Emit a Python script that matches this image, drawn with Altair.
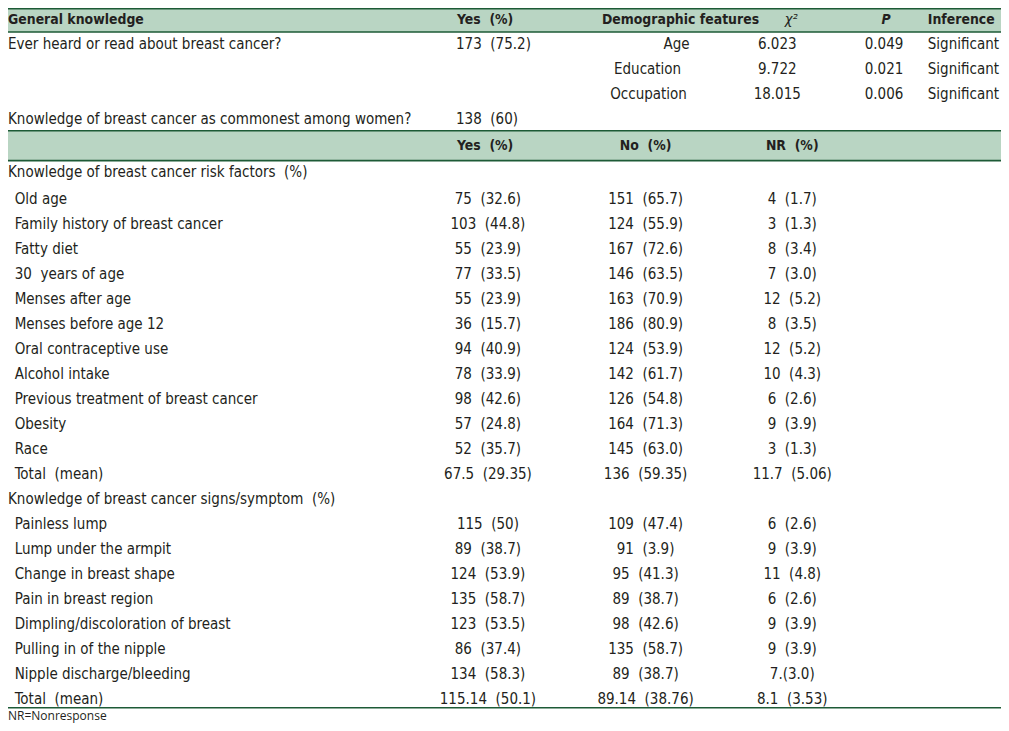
import altair as alt
import pandas as pd

# ---------------- data ----------------
gk_header = ["General knowledge", "Yes\u00a0 (%)", "Demographic features", "\u03c7\u00b2", "P", "Inference"]
gk_questions = ["Ever heard or read about breast cancer?",
                "Knowledge of breast cancer as commonest among women?"]
gk_yes = ["173\u00a0 (75.2)", "138\u00a0 (60)"]
demo_features = ["Age", "Education", "Occupation"]
chi2_values = ["6.023", "9.722", "18.015"]
p_values = ["0.049", "0.021", "0.006"]
inference = ["Significant", "Significant", "Significant"]

kn_header = ["Yes\u00a0 (%)", "No\u00a0 (%)", "NR\u00a0 (%)"]
risk_title = "Knowledge of breast cancer risk factors\u00a0 (%)"
risk_factors = ["Old age", "Family history of breast cancer", "Fatty diet",
                "30\u00a0 years of age", "Menses after age", "Menses before age 12",
                "Oral contraceptive use", "Alcohol intake",
                "Previous treatment of breast cancer", "Obesity", "Race",
                "Total\u00a0 (mean)"]
risk_yes = ["75\u00a0 (32.6)", "103\u00a0 (44.8)", "55\u00a0 (23.9)", "77\u00a0 (33.5)",
            "55\u00a0 (23.9)", "36\u00a0 (15.7)", "94\u00a0 (40.9)", "78\u00a0 (33.9)",
            "98\u00a0 (42.6)", "57\u00a0 (24.8)", "52\u00a0 (35.7)", "67.5\u00a0 (29.35)"]
risk_no = ["151\u00a0 (65.7)", "124\u00a0 (55.9)", "167\u00a0 (72.6)", "146\u00a0 (63.5)",
           "163\u00a0 (70.9)", "186\u00a0 (80.9)", "124\u00a0 (53.9)", "142\u00a0 (61.7)",
           "126\u00a0 (54.8)", "164\u00a0 (71.3)", "145\u00a0 (63.0)", "136\u00a0 (59.35)"]
risk_nr = ["4\u00a0 (1.7)", "3\u00a0 (1.3)", "8\u00a0 (3.4)", "7\u00a0 (3.0)",
           "12\u00a0 (5.2)", "8\u00a0 (3.5)", "12\u00a0 (5.2)", "10\u00a0 (4.3)",
           "6\u00a0 (2.6)", "9\u00a0 (3.9)", "3\u00a0 (1.3)", "11.7\u00a0 (5.06)"]

sym_title = "Knowledge of breast cancer signs/symptom\u00a0 (%)"
symptoms = ["Painless lump", "Lump under the armpit", "Change in breast shape",
            "Pain in breast region", "Dimpling/discoloration of breast",
            "Pulling in of the nipple", "Nipple discharge/bleeding", "Total\u00a0 (mean)"]
sym_yes = ["115\u00a0 (50)", "89\u00a0 (38.7)", "124\u00a0 (53.9)", "135\u00a0 (58.7)",
           "123\u00a0 (53.5)", "86\u00a0 (37.4)", "134\u00a0 (58.3)", "115.14\u00a0 (50.1)"]
sym_no = ["109\u00a0 (47.4)", "91\u00a0 (3.9)", "95\u00a0 (41.3)", "89\u00a0 (38.7)",
          "98\u00a0 (42.6)", "135\u00a0 (58.7)", "89\u00a0 (38.7)", "89.14\u00a0 (38.76)"]
sym_nr = ["6\u00a0 (2.6)", "9\u00a0 (3.9)", "11\u00a0 (4.8)", "6\u00a0 (2.6)",
          "9\u00a0 (3.9)", "9\u00a0 (3.9)", "7.(3.0)", "8.1\u00a0 (3.53)"]
footnote = "NR=Nonresponse"

# ---------------- layout (positions in the reference's pixel frame) ----------------
REF_W, REF_H = 1009, 731
M = 8                        # page margin
CW, CH = REF_W - 2 * M, REF_H - 2 * M   # chart size that fits the page
FONT = "DejaVu Sans Condensed, Liberation Sans Narrow, sans-serif"
FOOT_FONT = "Open Sans, Noto Sans, sans-serif"
TXT = "#231f20"
BAND = "#b9d5c3"
LINE = "#1d5a36"

X_LABEL, X_INDENT = 2, 12
X_GK_YES = 455
X_DEMO_HEAD = 680
X_DEMO = [676, 647, 648]
X_CHI_HEAD, X_CHI = 791, 777
X_P_HEAD, X_P = 886, 884
X_INF = 930
X_YES_HEAD = 456
X_YES, X_NO, X_NR = 487, 645, 792

Y_H1 = 17
GK_ROW0, GK_PITCH = 44, 25
Y_H2 = 146
Y_RISK_TITLE = 172
ROW0, PITCH = 199, 25.1
Y_FOOT = 722

rows = []

def add(text, x, y, align, style):
    rows.append(dict(text=text, x=x, y=y, align=align, style=style))

# header 1
add(gk_header[0], X_LABEL, Y_H1, "left", "head")
add(gk_header[1], X_YES_HEAD, Y_H1, "left", "head")
add(gk_header[2], X_DEMO_HEAD, Y_H1, "center", "head")
add(gk_header[3], X_CHI_HEAD, Y_H1, "center", "ital")
add(gk_header[4], X_P_HEAD, Y_H1, "center", "headital")
add(gk_header[5], X_INF, Y_H1, "left", "head")

for i, q in enumerate(gk_questions):
    yq = GK_ROW0 + (0 if i == 0 else 3 * GK_PITCH)
    add(q, X_LABEL, yq, "left", "body")
    add(gk_yes[i], X_GK_YES, yq, "left", "body")
for i in range(len(demo_features)):
    yd = GK_ROW0 + i * GK_PITCH
    add(demo_features[i], X_DEMO[i], yd, "center", "body")
    add(chi2_values[i], X_CHI, yd, "center", "body")
    add(p_values[i], X_P, yd, "center", "body")
    add(inference[i], X_INF, yd, "left", "body")

# header 2
add(kn_header[0], X_YES_HEAD, Y_H2, "left", "head")
add(kn_header[1], X_NO, Y_H2, "center", "head")
add(kn_header[2], X_NR, Y_H2, "center", "head")

add(risk_title, X_LABEL, Y_RISK_TITLE, "left", "body")
r = 0
for i in range(len(risk_factors)):
    yy = ROW0 + r * PITCH
    add(risk_factors[i], X_INDENT, yy, "left", "body")
    add(risk_yes[i], X_YES, yy, "center", "body")
    add(risk_no[i], X_NO, yy, "center", "body")
    add(risk_nr[i], X_NR, yy, "center", "body")
    r += 1
add(sym_title, X_LABEL, ROW0 + r * PITCH, "left", "body")
r += 1
for i in range(len(symptoms)):
    yy = ROW0 + r * PITCH
    add(symptoms[i], X_INDENT, yy, "left", "body")
    add(sym_yes[i], X_YES, yy, "center", "body")
    add(sym_no[i], X_NO, yy, "center", "body")
    add(sym_nr[i], X_NR, yy, "center", "body")
    r += 1
add(footnote, X_LABEL, Y_FOOT, "left", "foot")

df = pd.DataFrame(rows)

# piecewise scales: the reference frame maps 1:1 onto the page in the middle,
# and is squeezed only at the edges that fall inside the page margin
xs = alt.Scale(domain=[2, 14, 900, REF_W], range=[0, 16 - M, 900 - M, CW],
               nice=False, zero=False)
ys = alt.Scale(domain=[1, 32, 701, REF_H], range=[0, 32 - M, 699 - M, CH],
               nice=False, zero=False)

def X(f="x"):
    return alt.X(f"{f}:Q", scale=xs, axis=None)

def Y(f="y"):
    return alt.Y(f"{f}:Q", scale=ys, axis=None)

styles = {
    "body": dict(font=FONT, fontSize=15, fontWeight="normal", fontStyle="normal"),
    "head": dict(font=FONT, fontSize=13.9, fontWeight="bold", fontStyle="normal"),
    "headital": dict(font=FONT, fontSize=13.9, fontWeight="bold", fontStyle="italic"),
    "ital": dict(font=FONT, fontSize=14.5, fontWeight="normal", fontStyle="italic"),
    "foot": dict(font=FOOT_FONT, fontSize=12, fontWeight="normal", fontStyle="normal"),
}

bands = pd.DataFrame(dict(x=[2, 2], x2=[REF_W, REF_W], y=[1, 131], y2=[32, 161]))
lines = pd.DataFrame(dict(x=[2] * 5, x2=[REF_W] * 5, y=[1.8, 32, 131, 161, 712]))

band_layer = alt.Chart(bands).mark_rect(color=BAND).encode(
    x=X(), x2="x2:Q", y=Y(), y2="y2:Q")
line_layer = alt.Chart(lines).mark_rule(color=LINE, strokeWidth=1.6).encode(
    x=X(), x2="x2:Q", y=Y())

layers = [band_layer, line_layer]
for (st, al), sub in df.groupby(["style", "align"]):
    s = styles[st]
    layers.append(
        alt.Chart(sub).mark_text(align=al, baseline="middle", color=TXT, **s).encode(
            x=X(), y=Y(), text="text:N")
    )

chart = alt.layer(*layers).properties(
    width=CW, height=CH, padding=0, autosize=alt.AutoSizeParams(type="none"),
    background="white",
).configure_view(stroke=None)

chart.save("out.html", embed_options={"renderer": "svg", "actions": False})
